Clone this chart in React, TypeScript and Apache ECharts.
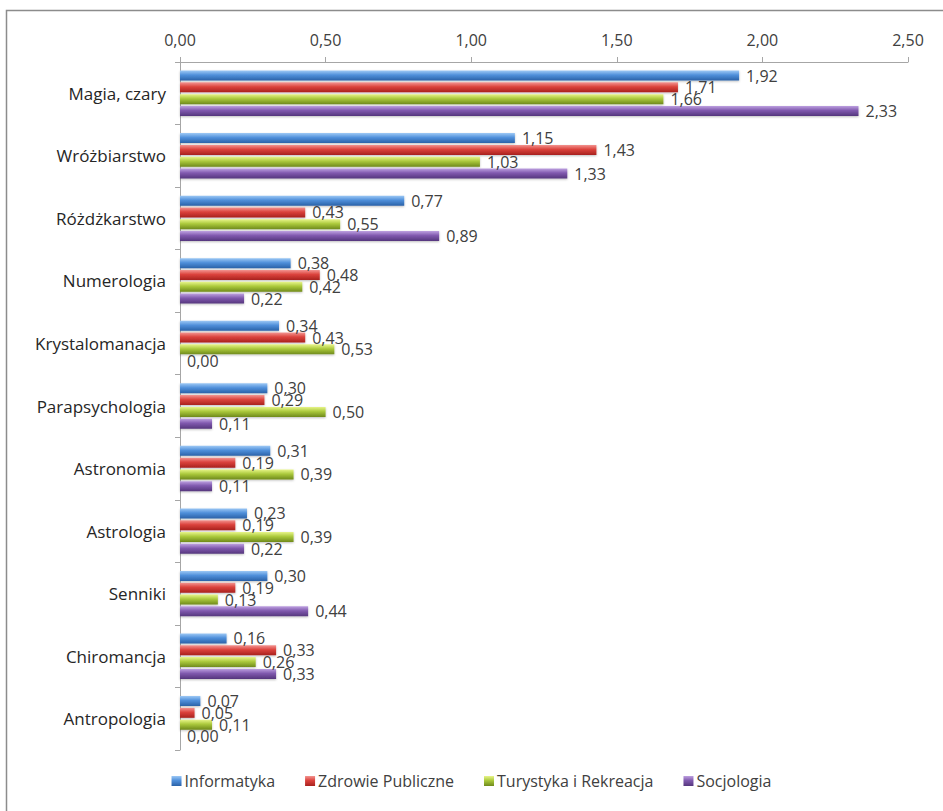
import React, { useEffect, useRef } from "react";
import * as echarts from "echarts";

const categories = [
  "Magia, czary",
  "Wróżbiarstwo",
  "Różdżkarstwo",
  "Numerologia",
  "Krystalomanacja",
  "Parapsychologia",
  "Astronomia",
  "Astrologia",
  "Senniki",
  "Chiromancja",
  "Antropologia",
];
const seriesNames = ["Informatyka", "Zdrowie Publiczne", "Turystyka i Rekreacja", "Socjologia"];
const informatyka = [1.92, 1.15, 0.77, 0.38, 0.34, 0.3, 0.31, 0.23, 0.3, 0.16, 0.07];
const zdrowie = [1.71, 1.43, 0.43, 0.48, 0.43, 0.29, 0.19, 0.19, 0.19, 0.33, 0.05];
const turystyka = [1.66, 1.03, 0.55, 0.42, 0.53, 0.5, 0.39, 0.39, 0.13, 0.26, 0.11];
const socjologia = [2.33, 1.33, 0.89, 0.22, 0.0, 0.11, 0.11, 0.22, 0.44, 0.33, 0.0];
const xTicks = { min: 0, max: 2.5, interval: 0.5 };

const palettes = [
  ["#9cc8f5", "#4f8fda", "#2a62a8"],
  ["#f39490", "#db423c", "#a8221e"],
  ["#e8f58a", "#abc93c", "#6f8a1c"],
  ["#bda0e0", "#8059ae", "#55367d"],
];

const fmt = (v: number) => v.toFixed(2).replace(".", ",");

export default function App() {
  const ref = useRef<HTMLDivElement>(null);
  useEffect(() => {
    if (!ref.current) return;
    const chart = echarts.init(ref.current, undefined, { renderer: "svg" });
    const datasets = [informatyka, zdrowie, turystyka, socjologia];
    const font = "'Open Sans', 'Noto Sans', sans-serif";
    chart.setOption({
      animation: false,
      textStyle: { fontFamily: font },
      graphic: [
        {
          type: "rect",
          shape: { x: 6.5, y: 10.5, width: 960, height: 820 },
          style: { fill: "none", stroke: "#8c8c8c", lineWidth: 1.5 },
          silent: true,
        },
      ],
      grid: { left: 180, right: 35, top: 62, bottom: 61 },
      legend: {
        bottom: 17,
        left: "center",
        itemWidth: 10,
        itemHeight: 10,
        itemGap: 30,
        icon: "rect",
        textStyle: { fontSize: 16, color: "#404040", fontFamily: font, padding: [0, 0, 0, -2] },
        data: seriesNames,
      },
      xAxis: {
        type: "value",
        position: "top",
        min: xTicks.min,
        max: xTicks.max,
        interval: xTicks.interval,
        axisLine: { show: true, lineStyle: { color: "#a6a6a6" } },
        axisTick: { show: true, length: 5, lineStyle: { color: "#a6a6a6" } },
        splitLine: { show: false },
        axisLabel: { formatter: fmt, fontSize: 16, color: "#404040", margin: 14 },
      },
      yAxis: {
        type: "category",
        inverse: true,
        data: categories,
        axisLine: { show: true, lineStyle: { color: "#a6a6a6" } },
        axisTick: { show: true, length: 5, lineStyle: { color: "#a6a6a6" } },
        axisLabel: { fontSize: 17, color: "#262626", margin: 14 },
      },
      series: datasets.map((d, i) => ({
        name: seriesNames[i],
        type: "bar",
        data: d,
        barWidth: 10,
        barGap: "18%",
        itemStyle: {
          color: new echarts.graphic.LinearGradient(0, 0, 0, 1, [
            { offset: 0, color: palettes[i][0] },
            { offset: 0.45, color: palettes[i][1] },
            { offset: 1, color: palettes[i][2] },
          ]),
          shadowColor: "rgba(0,0,0,0.25)",
          shadowBlur: 2,
          shadowOffsetY: 1,
        },
        label: {
          show: true,
          position: "right",
          distance: 7,
          formatter: (p: any) => fmt(p.value),
          fontSize: 16,
          color: "#404040",
        },
      })),
    });
    return () => chart.dispose();
  }, []);
  return (
    <div
      ref={ref}
      style={{ position: "absolute", left: 0, top: 0, width: 943, height: 811, background: "#fff" }}
    />
  );
}
